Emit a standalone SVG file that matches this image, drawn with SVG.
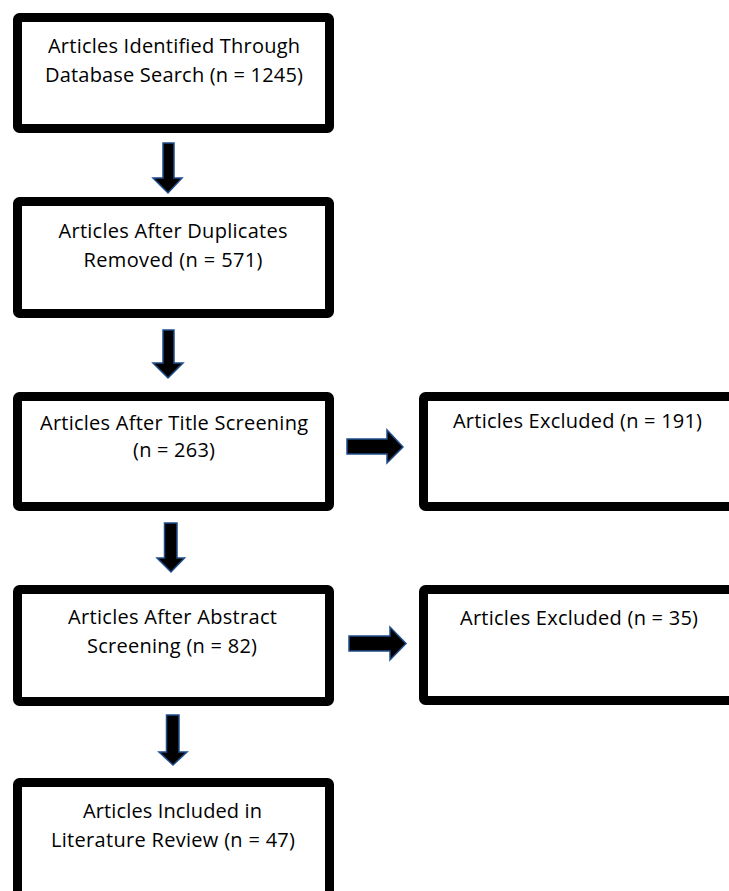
<svg xmlns="http://www.w3.org/2000/svg" width="729" height="891" viewBox="0 0 729 891">
<style>
.box{fill:#fff;stroke:#000;stroke-width:9;}
.t{font-family:"Open Sans","Liberation Sans",Arial,sans-serif;font-size:20px;fill:#000;text-anchor:middle;}
.arr{fill:#000;stroke:#1f4e8c;stroke-width:1.5;stroke-linejoin:miter;}
</style>
<rect x="0" y="0" width="729" height="891" fill="#fff"/>
<g id="connectors">
<polygon class="arr" points="163,143 174,143 174,178 182,178 168,193 153,178 163,178"/>
<polygon class="arr" points="163,330 174,330 174,363 183,363 168,378 153,363 163,363"/>
<polygon class="arr" points="164.5,523 177,523 177,558 184.5,558 171,572 157,558 164.5,558"/>
<polygon class="arr" points="166.5,715 179,715 179,752 187,752 173,765 159,752 166.5,752"/>
<polygon class="arr" points="347,439 387,439 387,430 403,447 387,463 387,454 347,454"/>
<polygon class="arr" points="349,636 390,636 390,627 406,643.5 390,660 390,651 349,651"/>
</g>
<g id="n1">
<rect class="box" x="17.5" y="17.5" width="312" height="111" rx="2"/>
<text class="t" x="174" y="53" textLength="252">Articles Identified Through</text>
<text class="t" x="174" y="82" textLength="258">Database Search (n = 1245)</text>
</g>
<g id="n2">
<rect class="box" x="17.5" y="201.5" width="312" height="112" rx="2"/>
<text class="t" x="173" y="238" textLength="229">Articles After Duplicates</text>
<text class="t" x="173" y="267" textLength="179">Removed (n = 571)</text>
</g>
<g id="n3">
<rect class="box" x="17.5" y="396.5" width="312" height="110" rx="2"/>
<text class="t" x="174" y="430" textLength="268">Articles After Title Screening</text>
<text class="t" x="174" y="457" textLength="82">(n = 263)</text>
</g>
<g id="n4">
<rect class="box" x="17.5" y="589.5" width="312" height="112" rx="2"/>
<text class="t" x="172.5" y="624" textLength="209">Articles After Abstract</text>
<text class="t" x="172" y="653" textLength="170">Screening (n = 82)</text>
</g>
<g id="n5">
<rect class="box" x="17.5" y="782.5" width="312" height="130" rx="2"/>
<text class="t" x="172.5" y="818" textLength="179">Articles Included in</text>
<text class="t" x="173" y="847" textLength="244">Literature Review (n = 47)</text>
</g>
<g id="n6">
<rect class="box" x="423.5" y="396.5" width="320" height="110" rx="2"/>
<text class="t" x="577.5" y="428" textLength="249">Articles Excluded (n = 191)</text>
</g>
<g id="n7">
<rect class="box" x="423.5" y="589.5" width="320" height="111" rx="2"/>
<text class="t" x="579" y="625" textLength="238">Articles Excluded (n = 35)</text>
</g>
</svg>
